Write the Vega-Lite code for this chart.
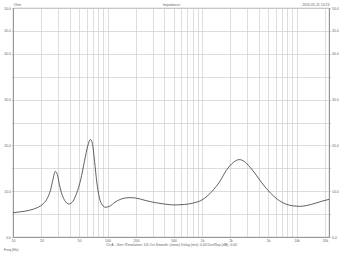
{
  "$schema": "https://vega.github.io/schema/vega-lite/v6.json",
  "width": 316,
  "height": 229,
  "autosize": {"type": "none"},
  "padding": {"left": 13, "top": 8, "right": 13, "bottom": 19},
  "background": "white",
  "config": {
    "font": "Liberation Sans",
    "view": {"stroke": "#8c8c8c", "strokeWidth": 0.8},
    "axis": {
      "labelFontSize": 3.5,
      "labelColor": "#666",
      "titleFontSize": 3.5,
      "titleFontWeight": "normal",
      "titleColor": "#666",
      "gridColor": "#cfcfcf",
      "gridWidth": 0.7,
      "domainColor": "#8c8c8c",
      "domainWidth": 0.8,
      "tickColor": "#999",
      "tickWidth": 0.5
    }
  },
  "title": {
    "text": "Freq (Hz)",
    "orient": "bottom",
    "anchor": "start",
    "fontSize": 3.5,
    "fontWeight": "normal",
    "color": "#666",
    "offset": 2
  },
  "data": {
    "values": [
      {"f": 10, "z": 5.3},
      {"f": 12, "z": 5.5},
      {"f": 15, "z": 5.85},
      {"f": 18, "z": 6.4},
      {"f": 21, "z": 7.3},
      {"f": 23, "z": 8.4},
      {"f": 25, "z": 10.3},
      {"f": 26.5, "z": 12.6},
      {"f": 28, "z": 14.3},
      {"f": 29.5, "z": 13.6},
      {"f": 31, "z": 11.4},
      {"f": 33, "z": 9.3},
      {"f": 36, "z": 7.7},
      {"f": 39, "z": 7.2},
      {"f": 43, "z": 7.8},
      {"f": 47, "z": 9.5},
      {"f": 52, "z": 12.5},
      {"f": 57, "z": 16.5},
      {"f": 62, "z": 20.0},
      {"f": 66, "z": 21.3},
      {"f": 69, "z": 20.5},
      {"f": 73, "z": 16.5},
      {"f": 77, "z": 12.0},
      {"f": 82, "z": 8.6},
      {"f": 88, "z": 7.0},
      {"f": 95, "z": 6.5},
      {"f": 105, "z": 6.7},
      {"f": 120, "z": 7.6},
      {"f": 140, "z": 8.3},
      {"f": 170, "z": 8.6},
      {"f": 200, "z": 8.5},
      {"f": 250, "z": 8.0},
      {"f": 320, "z": 7.5},
      {"f": 400, "z": 7.2},
      {"f": 500, "z": 7.0},
      {"f": 650, "z": 7.1},
      {"f": 800, "z": 7.4},
      {"f": 1000, "z": 8.1},
      {"f": 1280, "z": 10.0},
      {"f": 1550, "z": 12.2},
      {"f": 1800, "z": 14.5},
      {"f": 2150, "z": 16.3},
      {"f": 2480, "z": 16.9},
      {"f": 2800, "z": 16.5},
      {"f": 3200, "z": 15.3},
      {"f": 3750, "z": 13.5},
      {"f": 4300, "z": 11.8},
      {"f": 5300, "z": 9.6},
      {"f": 6300, "z": 8.2},
      {"f": 7700, "z": 7.2},
      {"f": 9200, "z": 6.8},
      {"f": 11000, "z": 6.7},
      {"f": 13000, "z": 6.9},
      {"f": 16000, "z": 7.4},
      {"f": 20000, "z": 8.0},
      {"f": 22050, "z": 8.2}
    ]
  },
  "layer": [
    {
      "mark": {"type": "line", "color": "#3a3a3a", "strokeWidth": 0.8, "interpolate": "monotone"},
      "encoding": {
        "x": {
          "field": "f",
          "type": "quantitative",
          "scale": {"type": "log", "domain": [10, 22050], "nice": false},
          "axis": {
            "orient": "bottom",
            "values": [10, 20, 30, 40, 50, 60, 70, 80, 90, 100, 200, 300, 400, 500, 600, 700, 800, 900, 1000, 2000, 3000, 4000, 5000, 6000, 7000, 8000, 9000, 10000, 20000],
            "labelExpr": "indexof([10,20,50,100,200,500,1000,2000,5000,10000,20000], datum.value) >= 0 ? (datum.value >= 1000 ? (datum.value/1000) + 'k' : '' + datum.value) : ''",
            "grid": true,
            "ticks": false,
            "labelPadding": 1.5,
            "labelFlush": false,
            "labelOverlap": false,
            "title": "Ch A - Gen: Resolution: 1/6 Oct   Smooth: (none)   Delay (ms): 0.00   Dur/Rep (dB): 0.00",
            "titlePadding": 0.5
          }
        },
        "y": {
          "field": "z",
          "type": "quantitative",
          "scale": {"domain": [0, 50], "nice": false, "zero": true},
          "axis": {
            "orient": "left",
            "values": [0, 5, 10, 15, 20, 25, 30, 35, 40, 45, 50],
            "labelExpr": "indexof([0,10,20,30,40,45,50], datum.value) >= 0 ? format(datum.value, '.1f') : ''",
            "grid": true,
            "tickSize": 1.5,
            "labelPadding": 1,
            "labelOverlap": false,
            "labelFlush": false,
            "title": "Ohm",
            "titleAngle": 0,
            "titleAlign": "left",
            "titleBaseline": "alphabetic",
            "titleX": 0,
            "titleY": -3
          }
        }
      }
    },
    {
      "mark": {"type": "line", "opacity": 0},
      "encoding": {
        "x": {
          "field": "f",
          "type": "quantitative",
          "scale": {"type": "log", "domain": [10, 22050], "nice": false},
          "axis": {
            "orient": "top",
            "labels": false,
            "ticks": false,
            "grid": false,
            "domain": false,
            "title": "Impedance",
            "titlePadding": 2
          }
        },
        "y": {
          "field": "z",
          "type": "quantitative",
          "scale": {"domain": [0, 50], "nice": false, "zero": true},
          "axis": {
            "orient": "right",
            "values": [0, 5, 10, 15, 20, 25, 30, 35, 40, 45, 50],
            "labelExpr": "indexof([0,10,20,30,40,45,50], datum.value) >= 0 ? format(datum.value, '.1f') : ''",
            "grid": false,
            "tickSize": 1.5,
            "labelPadding": 1,
            "labelOverlap": false,
            "labelFlush": false,
            "title": "2020-05-11 14:23",
            "titleAngle": 0,
            "titleAlign": "right",
            "titleBaseline": "alphabetic",
            "titleX": 0,
            "titleY": -3
          }
        }
      }
    }
  ],
  "resolve": {"axis": {"x": "independent", "y": "independent"}}
}
